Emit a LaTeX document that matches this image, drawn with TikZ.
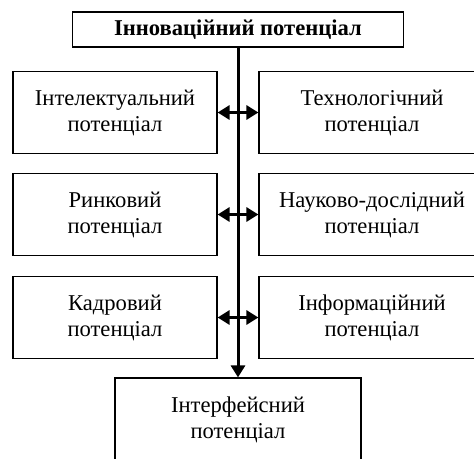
\documentclass[tikz,border=0pt]{standalone}
\usepackage{fontspec}
\setmainfont{Liberation Serif}
\usetikzlibrary{arrows.meta}
\tikzset{box/.style={draw,line width=1.2pt,align=center,minimum height=82pt,inner sep=0pt},
    tri/.tip={Triangle[length=12pt,width=14pt]}}

\begin{document}
\begin{tikzpicture}[x=1pt,y=-1pt,font=\fontsize{22.6}{26}\selectfont]
    \useasboundingbox (0,0) rectangle (474,458);
    \node[box,minimum width=331pt,minimum height=35pt,font=\fontsize{22.6}{26}\selectfont\bfseries] (1) at (238,29.5) {Інноваційний потенціал};
    \node[box,minimum width=204pt] (2) at (115,112.5) {Інтелектуальний\\потенціал};
    \node[box,minimum width=226pt] (3) at (372,112.5) {Технологічний\\потенціал};
    \node[box,minimum width=204pt] (4) at (115,214.5) {Ринковий\\потенціал};
    \node[box,minimum width=226pt] (5) at (372,214.5) {Науково-дослідний\\потенціал};
    \node[box,minimum width=204pt] (6) at (115,317.5) {Кадровий\\потенціал};
    \node[box,minimum width=226pt] (7) at (372,317.5) {Інформаційний\\потенціал};
    \node[box,minimum width=246pt,minimum height=84pt] (8) at (238,420) {Інтерфейсний\\потенціал};
    \draw[line width=3pt,-tri] (1) -- (8);
    \draw[line width=3pt,tri-tri] (2) -- (3);
    \draw[line width=3pt,tri-tri] (4) -- (5);
    \draw[line width=3pt,tri-tri] (6) -- (7);
\end{tikzpicture}
\end{document}
